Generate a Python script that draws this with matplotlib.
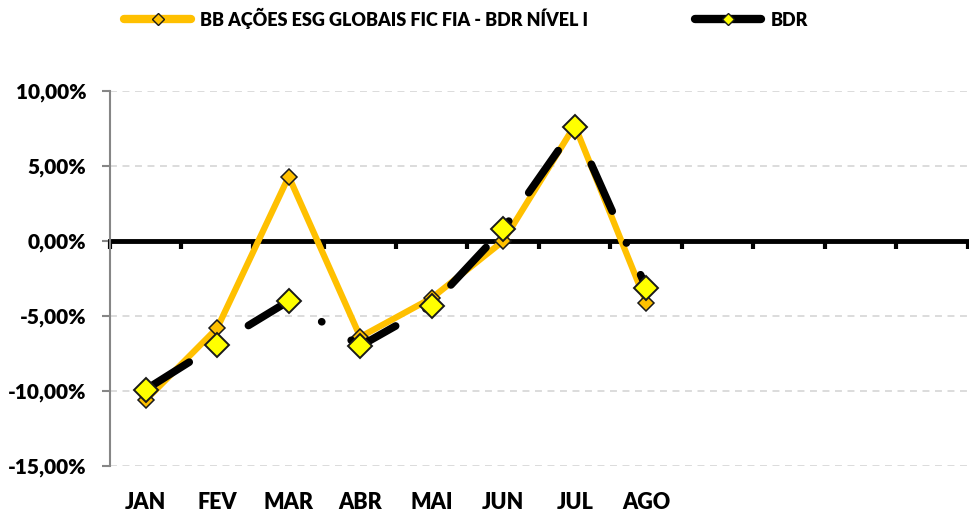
import matplotlib
matplotlib.use("Agg")
import matplotlib.pyplot as plt
from matplotlib.lines import Line2D
from matplotlib.ticker import FuncFormatter
import numpy as np

plt.rcParams['font.family'] = ['Lato', 'DejaVu Sans']
plt.rcParams['font.weight'] = 'heavy'
plt.rcParams['lines.scale_dashes'] = False

# data (monthly returns, %)
meses = ['JAN', 'FEV', 'MAR', 'ABR', 'MAI', 'JUN', 'JUL', 'AGO', '', '', '', '']
fundo = [-10.6, -5.8, 4.3, -6.4, -3.8, 0.0, 7.7, -4.1]
bdr = [-9.9, -6.9, -4.0, -7.0, -4.3, 0.8, 7.6, -3.1]
nome_fundo = 'BB AÇÕES ESG GLOBAIS FIC FIA - BDR NÍVEL I'
nome_bdr = 'BDR'

laranja = '#FFC000'
amarelo = '#FFFF00'

fig = plt.figure(figsize=(9.7, 5.13), dpi=100)
ax = fig.add_axes([110/970, 1-466/513, 858/970, 375/513])

x = np.arange(len(fundo))
ax.plot(x, fundo, color=laranja, lw=4.5, marker='D', ms=8.5,
        mfc=laranja, mec='#1a1a1a', mew=1.1, zorder=3)
ax.plot(x, bdr, color='black', lw=5.5, ls=(0, (37, 25, 0.1, 25)),
        dash_capstyle='round', marker='D', ms=12, mfc=amarelo,
        mec='#1a1a1a', mew=1.4, zorder=4)

ax.set_xlim(-0.5, len(meses)-0.5)
ax.set_ylim(-15, 10)
ax.set_yticks(np.arange(-15, 11, 5))
ax.yaxis.set_major_formatter(FuncFormatter(lambda v, p: '{:.2f}%'.format(v).replace('.', ',')))
ax.yaxis.grid(True, color='#D9D9D9', ls=(0, (5, 4)), lw=1.3)
ax.set_axisbelow(True)
ax.tick_params(axis='y', labelsize=15, color='#868686', length=6, width=1.5, pad=11)

# zero line with category boundary ticks
for s in ['top', 'right']:
    ax.spines[s].set_visible(False)
ax.spines['left'].set_color('#868686')
ax.spines['left'].set_linewidth(1.5)
ax.spines['bottom'].set_position(('data', 0))
ax.spines['bottom'].set_linewidth(3.5)
ax.spines['bottom'].set_zorder(2)
ax.set_xticks(np.arange(-0.5, len(meses), 1))
ax.set_xticklabels([])
ax.tick_params(axis='x', direction='out', length=6, width=3, color='black')

sec = ax.secondary_xaxis('bottom')
sec.set_xticks(np.arange(len(meses)))
sec.set_xticklabels(meses)
sec.tick_params(length=0, labelsize=15.5, pad=18.5)
sec.spines['bottom'].set_visible(False)

# legend handles: solid lines with small markers
h1 = Line2D([], [], color=laranja, lw=6, solid_capstyle='round', marker='D',
            ms=6, mfc=laranja, mec='#1a1a1a', mew=1.0)
h2 = Line2D([], [], color='black', lw=6, solid_capstyle='round', marker='D',
            ms=6, mfc=amarelo, mec='#1a1a1a', mew=1.0)
fig.legend([h1, h2], [nome_fundo, nome_bdr], loc='center left',
           bbox_to_anchor=(108/970, 1-18/513), ncol=2, frameon=False,
           fontsize=13, handlelength=3.7, handletextpad=0.5,
           columnspacing=5.9)

fig.savefig('out.png', dpi=100)
